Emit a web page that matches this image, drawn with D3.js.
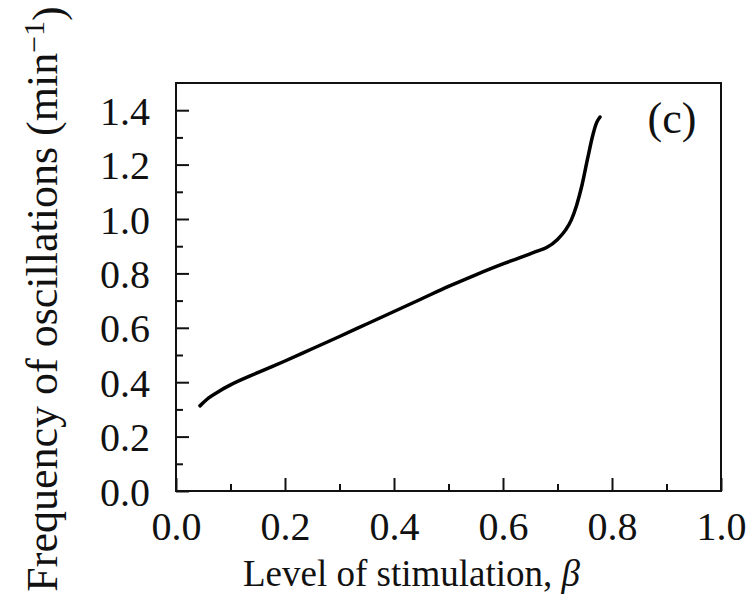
<!DOCTYPE html>
<html>
<head>
<meta charset="utf-8">
<script src="https://cdn.jsdelivr.net/npm/d3@7"></script>
<style>
  body { margin: 0; background: #fff; }
  text { font-family: 'Liberation Serif', 'Times New Roman', serif; fill: #111; }
</style>
</head>
<body>
<svg id="chart" width="752" height="614"></svg>
<script>
// data
const beta = [0.044, 0.06, 0.08, 0.10, 0.15, 0.20, 0.25, 0.30, 0.35, 0.40, 0.45, 0.50, 0.55,
              0.60, 0.63, 0.66, 0.68, 0.70, 0.715, 0.725, 0.735, 0.745, 0.755, 0.765, 0.772, 0.778];
const freq = [0.313, 0.342, 0.368, 0.390, 0.435, 0.478, 0.523, 0.568, 0.614, 0.660, 0.706, 0.752, 0.795,
              0.835, 0.857, 0.880, 0.895, 0.925, 0.960, 0.995, 1.050, 1.125, 1.220, 1.310, 1.355, 1.375];
const xMajor = [0, 0.2, 0.4, 0.6, 0.8, 1.0];
const xMinor = [0.1, 0.3, 0.5, 0.7, 0.9];
const yMajor = [0, 0.2, 0.4, 0.6, 0.8, 1.0, 1.2, 1.4];
const yMinor = [0.1, 0.3, 0.5, 0.7, 0.9, 1.1, 1.3];

const svg = d3.select('#chart');
const plot = { left: 176, right: 721, top: 83, bottom: 491 };

const x = d3.scaleLinear().domain([0, 1]).range([plot.left, plot.right]);
const y = d3.scaleLinear().domain([0, 1.5]).range([plot.bottom, plot.top]);

function styleAxis(g) {
    g.select('.domain').remove();
    g.selectAll('.tick line').attr('stroke', '#111').attr('stroke-width', 2);
    g.selectAll('.tick text')
        .style('font-family', "'Liberation Serif', serif")
        .style('font-size', '40px')
        .attr('fill', '#111');
}

// x axis, ticks pointing inward
svg.append('g')
    .attr('transform', `translate(0,${plot.bottom})`)
    .call(d3.axisBottom(x).tickValues(xMajor).tickFormat(d3.format('.1f'))
        .tickSizeInner(-13).tickSizeOuter(0).tickPadding(20))
    .call(styleAxis)
    .call(g => g.selectAll('.tick text').attr('dy', '0.72em'));

svg.append('g')
    .attr('transform', `translate(0,${plot.bottom})`)
    .call(d3.axisBottom(x).tickValues(xMinor).tickFormat('').tickSizeInner(-7).tickSizeOuter(0))
    .call(styleAxis);

// y axis
svg.append('g')
    .attr('transform', `translate(${plot.left},0)`)
    .call(d3.axisLeft(y).tickValues(yMajor).tickFormat(d3.format('.1f'))
        .tickSizeInner(-13).tickSizeOuter(0).tickPadding(26))
    .call(styleAxis)
    .call(g => g.selectAll('.tick text').attr('dy', '0.35em'));

svg.append('g')
    .attr('transform', `translate(${plot.left},0)`)
    .call(d3.axisLeft(y).tickValues(yMinor).tickFormat('').tickSizeInner(-7).tickSizeOuter(0))
    .call(styleAxis);

// frame
svg.append('rect')
    .attr('x', plot.left)
    .attr('y', plot.top)
    .attr('width', plot.right - plot.left)
    .attr('height', plot.bottom - plot.top)
    .attr('fill', 'none')
    .attr('stroke', '#111')
    .attr('stroke-width', 2);

// curve
const pts = beta.map((b, i) => [b, freq[i]]);
svg.append('path')
    .datum(pts)
    .attr('fill', 'none')
    .attr('stroke', '#000')
    .attr('stroke-width', 3.5)
    .attr('stroke-linecap', 'round')
    .attr('d', d3.line().x(d => x(d[0])).y(d => y(d[1])).curve(d3.curveMonotoneX));

// panel label
svg.append('text')
    .attr('x', 672)
    .attr('y', 133)
    .attr('text-anchor', 'middle')
    .style('font-size', '44px')
    .text('(c)');

// axis titles
const xt = svg.append('text')
    .attr('x', (plot.left + plot.right) / 2 - 37)
    .attr('y', 586)
    .attr('text-anchor', 'middle')
    .style('font-size', '37px')
    .text('Level of stimulation, ');
xt.append('tspan').style('font-style', 'italic').text('β');

const yt = svg.append('text')
    .attr('transform', `translate(57,299) rotate(-90)`)
    .attr('text-anchor', 'middle')
    .style('font-size', '44px')
    .text('Frequency of oscillations (min');
yt.append('tspan').attr('dy', '-0.45em').style('font-size', '30px').text('−1');
yt.append('tspan').attr('dy', '0.45em').text(')');
</script>
</body>
</html>
